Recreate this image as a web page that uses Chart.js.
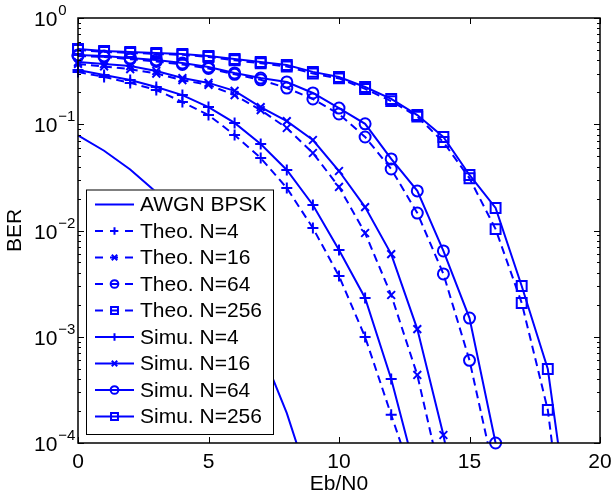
<!DOCTYPE html>
<html>
<head>
<meta charset="utf-8">
<script src="https://cdn.jsdelivr.net/npm/chart.js@4.4.0/dist/chart.umd.min.js"></script>
<style>
    html, body { margin: 0; padding: 0; background: #fff; }
    #wrap { width: 612px; height: 497px; }
</style>
</head>
<body>
<div id="wrap"><canvas id="graphCanvasBer"></canvas></div>
<script>
// Eb/N0 (dB), one value per integer step
var ebn0 = [0, 1, 2, 3, 4, 5, 6, 7, 8, 9, 10, 11, 12, 13, 14, 15, 16, 17, 18, 19];

// BER values
var awgnBpsk = [0.0786, 0.0563, 0.0375, 0.0229, 0.0125, 0.00595, 0.00239, 0.000773, 0.000191, 0.0000336];
var theoN4 = [0.310, 0.279, 0.245, 0.210, 0.162, 0.122, 0.0792, 0.0481, 0.0251, 0.01056, 0.00373, 0.000995, 0.000184, 0.000035];
var theoN16 = [0.37, 0.35, 0.33, 0.30, 0.26, 0.235, 0.188, 0.136, 0.0922, 0.0536, 0.0257, 0.00947, 0.00247, 0.000437, 0.000037];
var theoN64 = [0.44, 0.43, 0.41, 0.39, 0.365, 0.335, 0.295, 0.262, 0.219, 0.173, 0.125, 0.0759, 0.0379, 0.0146, 0.0039, 0.0006, 0.000046];
var theoN256 = [0.50, 0.48, 0.47, 0.46, 0.45, 0.43, 0.40, 0.375, 0.35, 0.30, 0.27, 0.215, 0.165, 0.118, 0.068, 0.031, 0.0103, 0.00208, 0.000205, 0.0000023];
var simuN4 = [0.324, 0.291, 0.261, 0.224, 0.188, 0.145, 0.103, 0.0652, 0.0371, 0.0174, 0.00654, 0.00232, 0.0004, 0.000046];
var simuN16 = [0.385, 0.369, 0.353, 0.317, 0.272, 0.245, 0.206, 0.145, 0.107, 0.0711, 0.0363, 0.0166, 0.006, 0.00118, 0.000119, 0.0000067];
var simuN64 = [0.449, 0.44, 0.42, 0.403, 0.377, 0.346, 0.304, 0.272, 0.25, 0.197, 0.142, 0.101, 0.0472, 0.0236, 0.00642, 0.0015, 0.0001];
var simuN256 = [0.511, 0.489, 0.479, 0.468, 0.458, 0.439, 0.411, 0.385, 0.361, 0.311, 0.278, 0.224, 0.173, 0.122, 0.0759, 0.0333, 0.0163, 0.003, 0.000497, 0.0000083];

var xTicks = [0, 5, 10, 15, 20];
var yTicks = [1, 0.1, 0.01, 0.001, 0.0001];
var yTickExp = ['0', '\u22121', '\u22122', '\u22123', '\u22124'];

var blue = 'rgb(0, 0, 255)';
var fontFamily = '"Liberation Sans", Arial, Helvetica, sans-serif';

function toPoints(values) {
    var pts = [];
    for (var i = 0; i < values.length; i++) {
        pts.push({ x: ebn0[i], y: values[i] });
    }
    return pts;
}

function makeSet(label, values, dashed, marker, radius) {
    return {
        label: label,
        data: toPoints(values),
        borderColor: blue,
        backgroundColor: blue,
        borderWidth: 2,
        borderDash: dashed ? [8, 5] : [],
        pointStyle: marker || 'circle',
        pointRadius: radius,
        pointHoverRadius: radius,
        pointBorderColor: blue,
        pointBackgroundColor: 'rgba(0,0,0,0)',
        pointBorderWidth: 2,
        tension: 0,
        fill: false,
        clip: { left: 10, top: 10, right: 10, bottom: 0 }
    };
}

var datasets = [
    makeSet('AWGN BPSK', awgnBpsk, false, 'circle', 0),
    makeSet('Theo. N=4', theoN4, true, 'cross', 5.5),
    makeSet('Theo. N=16', theoN16, true, 'crossRot', 5.5),
    makeSet('Theo. N=64', theoN64, true, 'circle', 5.5),
    makeSet('Theo. N=256', theoN256, true, 'rect', 7),
    makeSet('Simu. N=4', simuN4, false, 'cross', 5.5),
    makeSet('Simu. N=16', simuN16, false, 'crossRot', 5.5),
    makeSet('Simu. N=64', simuN64, false, 'circle', 5.5),
    makeSet('Simu. N=256', simuN256, false, 'rect', 7)
];
// the last simulated N=64 point sits right on the bottom axis
datasets[7].clip = 10;

function line(ctx, x1, y1, x2, y2) {
    ctx.beginPath();
    ctx.moveTo(x1, y1);
    ctx.lineTo(x2, y2);
    ctx.stroke();
}

var matlabFrame = {
    id: 'matlabFrame',
    afterDraw: function(chart) {
        var ctx = chart.ctx;
        var a = chart.chartArea;
        var xs = chart.scales.x;
        var ys = chart.scales.y;
        ctx.save();
        ctx.setLineDash([]);
        ctx.strokeStyle = '#000';

        // ticks pointing inward
        ctx.lineWidth = 1;
        xTicks.forEach(function(v) {
            var px = Math.round(xs.getPixelForValue(v)) + 0.5;
            line(ctx, px, a.bottom, px, a.bottom - 6);
            line(ctx, px, a.top, px, a.top + 6);
        });
        yTicks.forEach(function(dec) {
            var py = Math.round(ys.getPixelForValue(dec)) + 0.5;
            line(ctx, a.left, py, a.left + 6, py);
            line(ctx, a.right, py, a.right - 6, py);
            if (dec < 1) {
                for (var m = 2; m <= 9; m++) {
                    var pm = Math.round(ys.getPixelForValue(m * dec)) + 0.5;
                    line(ctx, a.left, pm, a.left + 3, pm);
                    line(ctx, a.right, pm, a.right - 3, pm);
                }
            }
        });

        // box
        ctx.lineWidth = 1.5;
        ctx.strokeRect(a.left, a.top, a.right - a.left, a.bottom - a.top);

        // y tick labels 10^k
        ctx.fillStyle = '#000';
        ctx.textAlign = 'left';
        ctx.textBaseline = 'alphabetic';
        yTicks.forEach(function(dec, i) {
            var py = ys.getPixelForValue(dec);
            ctx.font = '21px ' + fontFamily;
            ctx.fillText('10', 34, py + 8);
            var w = ctx.measureText('10').width;
            ctx.font = '15px ' + fontFamily;
            ctx.fillText(yTickExp[i], 34 + w + 1, py - 3);
        });

        // legend
        var lx = a.left + 8, rowH = 26.5;
        var n = chart.data.datasets.length;
        var boxH = n * rowH + 6;
        var ly = a.bottom - 9 - boxH;
        var boxW = 187;
        ctx.fillStyle = '#fff';
        ctx.fillRect(lx, ly, boxW, boxH);
        ctx.lineWidth = 1;
        ctx.strokeStyle = '#000';
        ctx.strokeRect(lx + 0.5, ly + 0.5, boxW, boxH);

        chart.data.datasets.forEach(function(ds, i) {
            var cy = ly + 15 + i * rowH;
            var x1 = lx + 9, x2 = lx + 48;
            ctx.strokeStyle = ds.borderColor;
            ctx.lineWidth = ds.borderWidth;
            ctx.setLineDash(ds.borderDash.length ? [8, 7] : []);
            line(ctx, x1, cy, x2, cy);
            ctx.setLineDash([]);
            if (ds.pointRadius > 0) {
                ctx.fillStyle = 'rgba(0,0,0,0)';
                Chart.helpers.drawPoint(ctx, {
                    pointStyle: ds.pointStyle,
                    radius: ds.pointRadius * 0.7,
                    rotation: 0,
                    borderWidth: 2
                }, (x1 + x2) / 2, cy);
            }
            ctx.fillStyle = '#000';
            ctx.font = '21px ' + fontFamily;
            ctx.textBaseline = 'middle';
            ctx.fillText(ds.label, lx + 54, cy + 1);
        });
        ctx.restore();
    }
};

var graphTarget = document.getElementById('graphCanvasBer');

var berChart = new Chart(graphTarget, {
    type: 'line',
    data: { datasets: datasets },
    plugins: [matlabFrame],
    options: {
        responsive: true,
        maintainAspectRatio: false,
        animation: false,
        layout: { padding: { top: 18, right: 12, left: 0, bottom: 0 } },
        plugins: {
            legend: { display: false },
            tooltip: { enabled: false }
        },
        scales: {
            x: {
                type: 'linear',
                min: 0,
                max: 20,
                ticks: {
                    stepSize: 5,
                    color: '#000',
                    padding: 7,
                    maxRotation: 0,
                    font: { family: fontFamily, size: 21 }
                },
                grid: { display: false, drawTicks: false },
                border: { display: false },
                title: {
                    display: true,
                    text: 'Eb/N0',
                    color: '#000',
                    padding: 0,
                    font: { family: fontFamily, size: 21 }
                },
                afterFit: function(scale) {
                    scale.height = 54;
                    scale.paddingLeft = 0;
                    scale.paddingRight = 0;
                }
            },
            y: {
                type: 'logarithmic',
                min: 0.0001,
                max: 1,
                ticks: { display: false },
                grid: { display: false, drawTicks: false },
                border: { display: false },
                title: {
                    display: true,
                    text: 'BER',
                    color: '#000',
                    padding: { top: 3, bottom: 0 },
                    font: { family: fontFamily, size: 21 }
                },
                afterFit: function(scale) {
                    scale.width = 78;
                    scale.paddingTop = 0;
                    scale.paddingBottom = 0;
                }
            }
        }
    }
});
</script>
</body>
</html>
